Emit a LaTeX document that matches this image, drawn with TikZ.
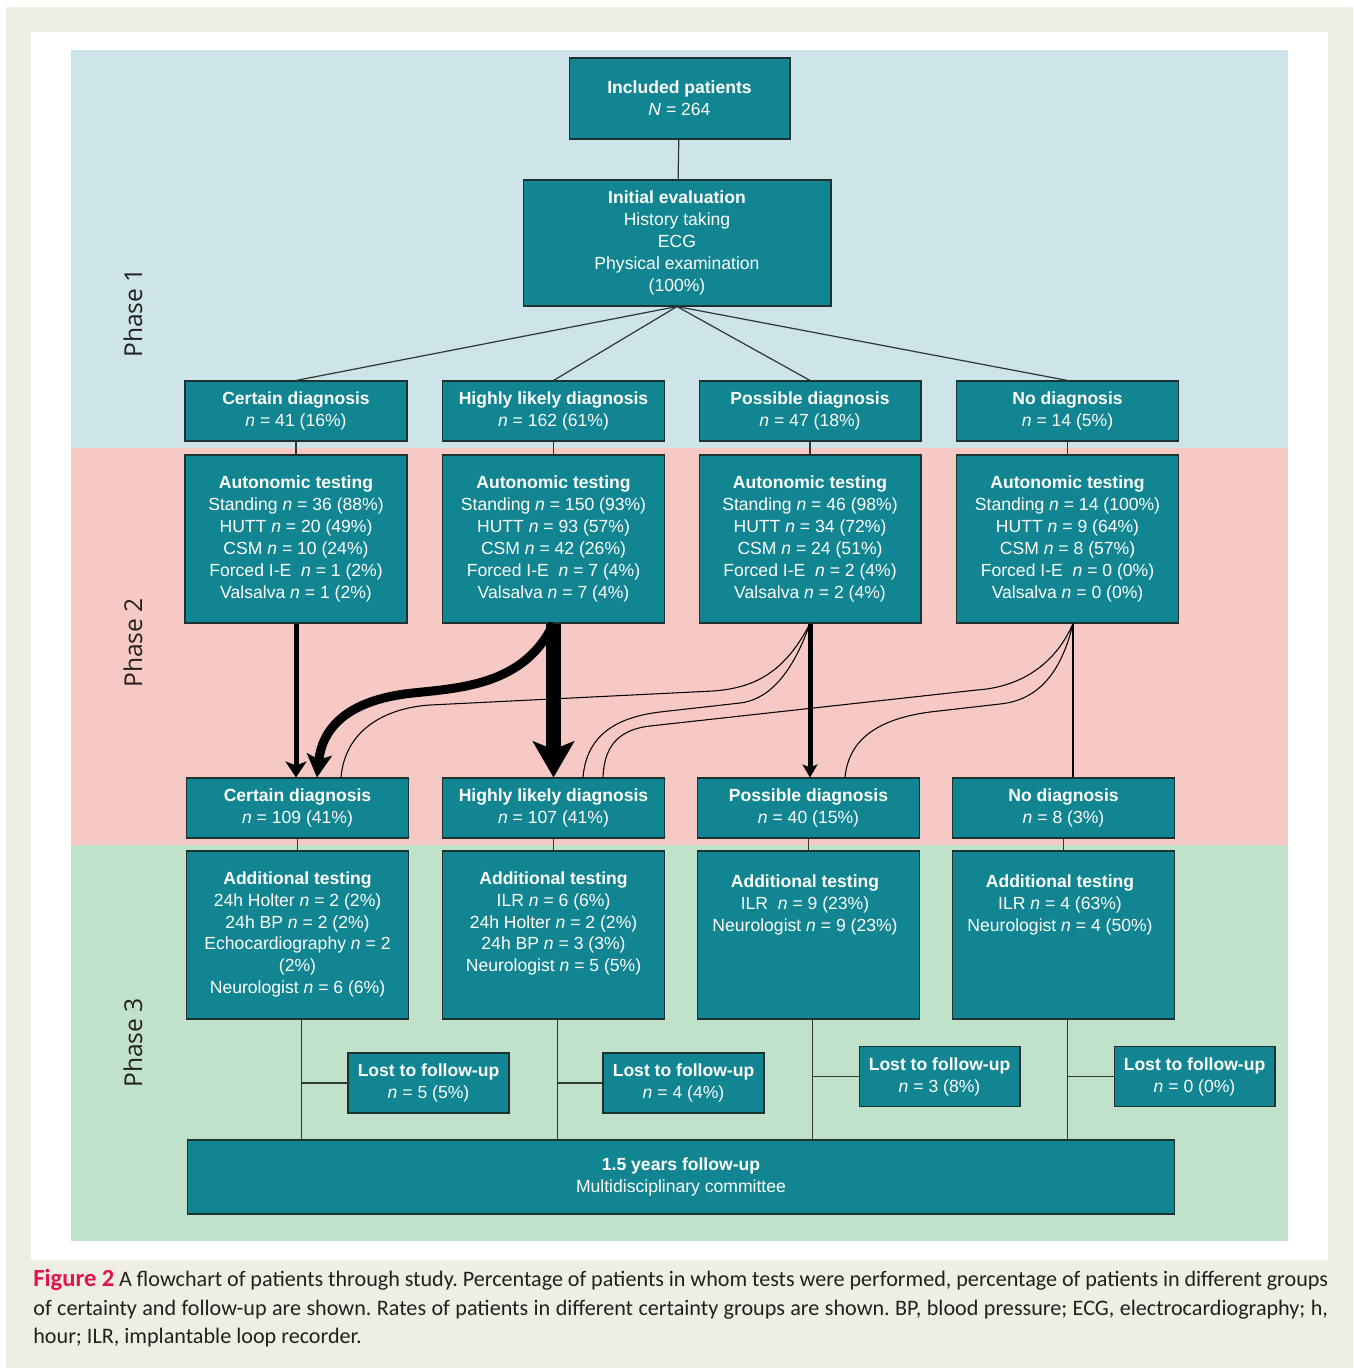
\documentclass[tikz,border=0pt]{standalone}
\usepackage{fontspec}
\setmainfont{Liberation Sans}
\newfontfamily\capfont{Carlito}
\newfontfamily\phasefont{Open Sans}
\usepackage{tikz}
\usetikzlibrary{arrows.meta}
\definecolor{beige}{RGB}{238,238,226}
\definecolor{phaseone}{RGB}{205,229,233}
\definecolor{phasetwo}{RGB}{246,201,197}
\definecolor{phasethree}{RGB}{192,226,203}
\definecolor{boxteal}{RGB}{17,133,146}
\definecolor{boxline}{RGB}{30,50,50}
\definecolor{linegray}{RGB}{50,55,55}
\definecolor{figred}{RGB}{224,20,76}
\definecolor{captext}{RGB}{35,31,32}
\tikzstyle{box} = [draw=boxline, line width=0.6pt, fill=boxteal, text=white, align=center, inner sep=0pt, font=\fontsize{10}{12.5}\selectfont]
\tikzstyle{diag} = [box, minimum width=4.44cm, minimum height=1.2cm]
\tikzstyle{test} = [box, minimum width=4.44cm, minimum height=3.36cm]
\tikzstyle{lost} = [box, minimum width=3.22cm, minimum height=1.2cm]
\tikzstyle{txt} = [text=white, align=center, inner sep=0pt, font=\fontsize{10}{12.5}\selectfont]
\tikzstyle{link} = [draw=linegray, line width=0.7pt]
\tikzstyle{flow} = [draw=black, line width=0.6pt]
\tikzstyle{phase} = [rotate=90, text=captext, font=\phasefont\fontsize{14}{16}\selectfont]

\begin{document}
\begin{tikzpicture}[x=0.02cm, y=-0.02cm]
	\useasboundingbox (0,0) rectangle (1353,1368);
	\fill [beige] (6,7) rectangle (1353,1368);
	\fill [white] (31,32) rectangle (1328,1260);
	\fill [phaseone] (71,50) rectangle (1288,448);
	\fill [phasetwo] (71,448) rectangle (1288,845);
	\fill [phasethree] (71,845) rectangle (1288,1241);

	\node[phase] (ph1) at (133,313) {Phase 1};
	\node[phase] (ph2) at (133,643) {Phase 2};
	\node[phase] (ph3) at (133,1043) {Phase 3};

	\node[box, minimum width=4.42cm, minimum height=1.62cm] (inc) at (679.5,98.5) {\textbf{Included patients}\\\textit{N} = 264};
	\node[box, minimum width=6.16cm, minimum height=2.52cm] (init) at (677,243) {\textbf{Initial evaluation}\\History taking\\ECG\\Physical examination\\(100\%)};

	\node[diag] (cd1) at (296,411) {\textbf{Certain diagnosis}\\\textit{n} = 41 (16\%)};
	\node[diag] (hd1) at (553.5,411) {\textbf{Highly likely diagnosis}\\\textit{n} = 162 (61\%)};
	\node[diag] (pd1) at (810,411) {\textbf{Possible diagnosis}\\\textit{n} = 47 (18\%)};
	\node[diag] (nd1) at (1067.5,411) {\textbf{No diagnosis}\\\textit{n} = 14 (5\%)};

	\node[test] (at1) at (296,539) {\textbf{Autonomic testing}\\Standing \textit{n} = 36 (88\%)\\HUTT \textit{n} = 20 (49\%)\\CSM \textit{n} = 10 (24\%)\\Forced I-E\ \ \textit{n} = 1 (2\%)\\Valsalva \textit{n} = 1 (2\%)};
	\node[test] (at2) at (553.5,539) {\textbf{Autonomic testing}\\Standing \textit{n} = 150 (93\%)\\HUTT \textit{n} = 93 (57\%)\\CSM \textit{n} = 42 (26\%)\\Forced I-E\ \ \textit{n} = 7 (4\%)\\Valsalva \textit{n} = 7 (4\%)};
	\node[test] (at3) at (810,539) {\textbf{Autonomic testing}\\Standing \textit{n} = 46 (98\%)\\HUTT \textit{n} = 34 (72\%)\\CSM \textit{n} = 24 (51\%)\\Forced I-E\ \ \textit{n} = 2 (4\%)\\Valsalva \textit{n} = 2 (4\%)};
	\node[test] (at4) at (1067.5,539) {\textbf{Autonomic testing}\\Standing \textit{n} = 14 (100\%)\\HUTT \textit{n} = 9 (64\%)\\CSM \textit{n} = 8 (57\%)\\Forced I-E\ \ \textit{n} = 0 (0\%)\\Valsalva \textit{n} = 0 (0\%)};

	\node[diag] (cd2) at (297.5,808) {\textbf{Certain diagnosis}\\\textit{n} = 109 (41\%)};
	\node[diag] (hd2) at (553.5,808) {\textbf{Highly likely diagnosis}\\\textit{n} = 107 (41\%)};
	\node[diag] (pd2) at (808.5,808) {\textbf{Possible diagnosis}\\\textit{n} = 40 (15\%)};
	\node[diag] (nd2) at (1063.5,808) {\textbf{No diagnosis}\\\textit{n} = 8 (3\%)};

	\node[test] (add1) at (297.5,935) {};
	\node[test] (add2) at (553.5,935) {};
	\node[test] (add3) at (808.5,935) {};
	\node[test] (add4) at (1063.5,935) {};
	\node[txt, anchor=north] (addt1) at (297.5,871) {\textbf{Additional testing}\\24h Holter \textit{n} = 2 (2\%)\\24h BP \textit{n} = 2 (2\%)\\Echocardiography \textit{n} = 2\\(2\%)\\Neurologist \textit{n} = 6 (6\%)};
	\node[txt, anchor=north] (addt2) at (553.5,871) {\textbf{Additional testing}\\ILR \textit{n} = 6 (6\%)\\24h Holter \textit{n} = 2 (2\%)\\24h BP \textit{n} = 3 (3\%)\\Neurologist \textit{n} = 5 (5\%)};
	\node[txt, anchor=north] (addt3) at (805,874) {\textbf{Additional testing}\\ILR\ \ \textit{n} = 9 (23\%)\\Neurologist \textit{n} = 9 (23\%)};
	\node[txt, anchor=north] (addt4) at (1060,874) {\textbf{Additional testing}\\ILR \textit{n} = 4 (63\%)\\Neurologist \textit{n} = 4 (50\%)};

	\node[lost] (lost1) at (428.5,1083) {\textbf{Lost to follow-up}\\\textit{n} = 5 (5\%)};
	\node[lost] (lost2) at (683.5,1083) {\textbf{Lost to follow-up}\\\textit{n} = 4 (4\%)};
	\node[lost] (lost3) at (939.5,1076.5) {\textbf{Lost to follow-up}\\\textit{n} = 3 (8\%)};
	\node[lost] (lost4) at (1194.5,1076.5) {\textbf{Lost to follow-up}\\\textit{n} = 0 (0\%)};

	\node[box, minimum width=19.76cm, minimum height=1.48cm] (fu) at (681,1177) {\textbf{1.5 years follow-up}\\Multidisciplinary committee};

	\draw[link] (inc) -- (init);
	\foreach \n in {cd1,hd1,pd1,nd1}
		\draw[link] (init.south) -- (\n.north);
	\draw[link] (cd1) -- (at1);
	\draw[link] (hd1) -- (at2);
	\draw[link] (pd1) -- (at3);
	\draw[link] (nd1) -- (at4);
	\draw[link] (cd2) -- (add1);
	\draw[link] (hd2) -- (add2);
	\draw[link] (pd2) -- (add3);
	\draw[link] (nd2) -- (add4);
	\foreach \i in {1,2,3,4} {
		\coordinate (b\i) at ([xshift=0.08cm]add\i.south);
		\draw[link] (b\i) -- (b\i |- fu.north);
		\draw[link] (lost\i.west) -- (lost\i.west -| b\i);
	}

	\coordinate (nsrc) at ([xshift=0.11cm]at4.south);
	\draw[flow] (at3.south) .. controls (785,672) and (755,688) .. (713,691) -- (430,705) .. controls (385,708) and (345,730) .. ([xshift=0.87cm]cd2.north);
	\draw[flow] (at3.south) .. controls (790,680) and (765,700) .. (740,703) -- (660,712) .. controls (610,718) and (586,740) .. ([xshift=0.59cm]hd2.north);
	\draw[flow] (nsrc) .. controls (1055,665) and (1020,687) .. (977,690) -- (650,726) .. controls (615,730) and (604,750) .. ([xshift=0.99cm]hd2.north);
	\draw[flow] (nsrc) .. controls (1062,670) and (1040,700) .. (1000,704) -- (930,712) .. controls (870,720) and (848,745) .. ([xshift=0.73cm]pd2.north);
	\draw[flow] (nsrc) -- (nsrc |- nd2.north);

	\draw[line width=0.1cm, -{Stealth[length=0.32cm, width=0.42cm, inset=0.08cm]}] (at1.south) -- (at1.south |- cd2.north);
	\draw[line width=0.1cm, -{Stealth[length=0.26cm, width=0.3cm, inset=0.06cm]}] (at3.south) -- (at3.south |- pd2.north);
	\draw[line width=0.3cm, -{Stealth[length=0.72cm, width=0.82cm, inset=0.16cm]}] (at2.south) -- (at2.south |- hd2.north);
	\draw[line width=0.18cm, -{Stealth[length=0.46cm, width=0.5cm, inset=0.1cm]}] (at2.south) .. controls (525,685) and (460,688) .. (413,693) .. controls (345,700) and (322,730) .. ([xshift=0.39cm]cd2.north);

	\node[anchor=north west, text width=25.9cm, align=justify, inner sep=0pt, text=captext, font=\capfont\fontsize{12.6}{16.2}\selectfont\frenchspacing] (cap) at (33,1269) {{\fontsize{14}{16.2}\selectfont\textbf{\textcolor{figred}{Figure 2}}} A flowchart of patients through study. Percentage of patients in whom tests were performed, percentage of patients in different groups\linebreak of certainty and follow-up are shown. Rates of patients in different certainty groups are shown. BP, blood pressure; ECG, electrocardiography; h,\linebreak hour; ILR, implantable loop recorder.};
\end{tikzpicture}
\end{document}
